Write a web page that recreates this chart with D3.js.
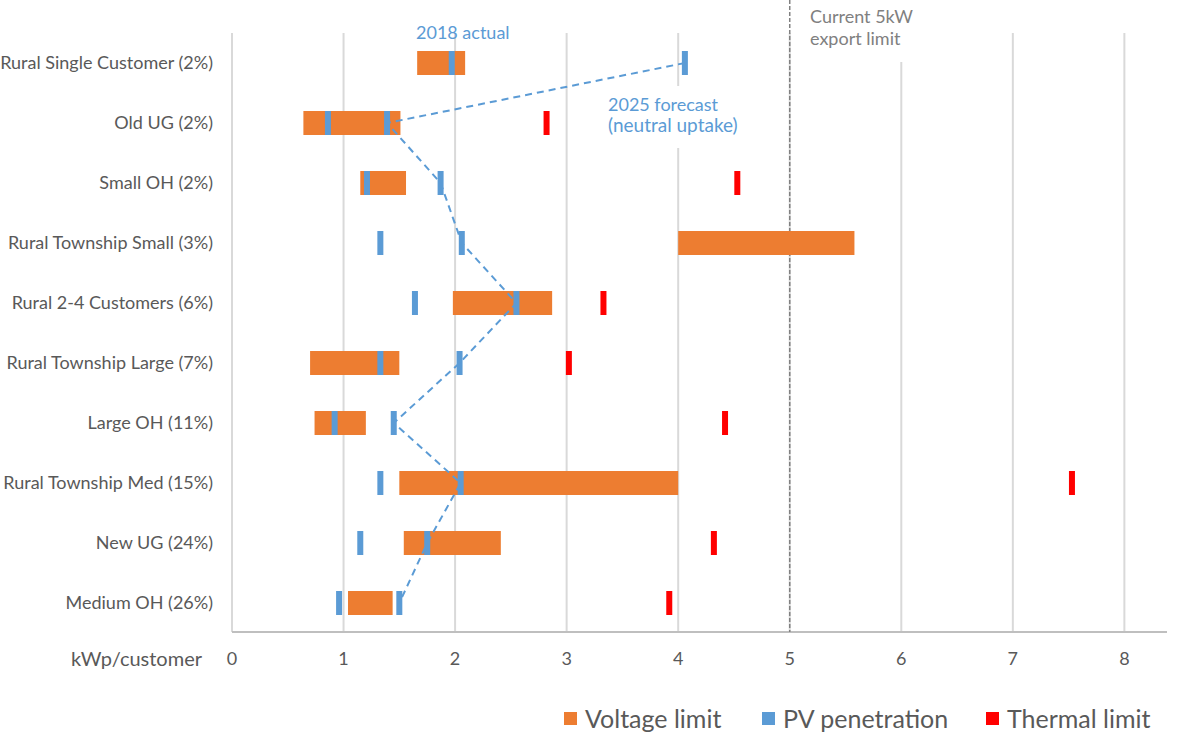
<!DOCTYPE html>
<html>
<head>
<meta charset="utf-8">
<script src="https://cdn.jsdelivr.net/npm/d3@7"></script>
<style>
  html, body { margin: 0; padding: 0; background: #ffffff; }
  svg { display: block; }
  text { font-family: Lato, "Open Sans", sans-serif; }
</style>
</head>
<body>
<svg id="chart" width="1200" height="741"></svg>
<script>
const categories = [
  "Rural Single Customer (2%)",
  "Old UG (2%)",
  "Small OH (2%)",
  "Rural Township Small (3%)",
  "Rural 2-4 Customers (6%)",
  "Rural Township Large (7%)",
  "Large OH (11%)",
  "Rural Township Med (15%)",
  "New UG (24%)",
  "Medium OH (26%)"
];
const voltageLow  = [1.66, 0.64, 1.15, 4.00, 1.98, 0.70, 0.74, 1.50, 1.54, 1.04];
const voltageHigh = [2.09, 1.51, 1.56, 5.58, 2.87, 1.50, 1.20, 4.00, 2.41, 1.44];
const pv2018      = [1.97, 0.86, 1.21, 1.33, 1.64, 1.33, 0.92, 1.33, 1.15, 0.96];
const pv2025      = [4.06, 1.39, 1.87, 2.06, 2.55, 2.04, 1.45, 2.05, 1.75, 1.50];
const thermal     = [null, 2.82, 4.53, null, 3.33, 3.02, 4.42, 7.53, 4.32, 3.92];
const xTicks = [0, 1, 2, 3, 4, 5, 6, 7, 8];
const xMax = 8.4;
const exportLimit = 5;
const legendItems = ["Voltage limit", "PV penetration", "Thermal limit"];
const axisTitle = "kWp/customer";

const colors = { voltage: "#ED7D31", pv: "#5B9BD5", thermal: "#FF0000" };
const textColor = "#595959";

const svg = d3.select("#chart");
const plot = { left: 232, right: 1169, top: 33, bottom: 633 };

const x = d3.scaleLinear().domain([0, xMax]).range([plot.left, plot.right]);
const y = d3.scaleBand().domain(categories).range([plot.top, plot.bottom])
  .paddingInner(0.6).paddingOuter(0.3);
const bw = y.bandwidth();
const yc = c => y(c) + bw / 2;

// gridlines
svg.append("g").selectAll("line").data(xTicks).join("line")
  .attr("x1", d => x(d)).attr("x2", d => x(d))
  .attr("y1", plot.top).attr("y2", plot.bottom - 1)
  .attr("stroke", "#D9D9D9").attr("stroke-width", 2);

// x axis line
svg.append("line")
  .attr("x1", x(0)).attr("x2", plot.right - 2)
  .attr("y1", plot.bottom - 1).attr("y2", plot.bottom - 1)
  .attr("stroke", "#BFBFBF").attr("stroke-width", 2);

// annotation boxes (white) hiding gridlines
svg.append("rect").attr("x", 600).attr("y", 86).attr("width", 150).attr("height", 62).attr("fill", "#fff");
svg.append("rect").attr("x", 800).attr("y", 0).attr("width", 120).attr("height", 62).attr("fill", "#fff");

// export limit dashed line
svg.append("line")
  .attr("x1", x(exportLimit)).attr("x2", x(exportLimit))
  .attr("y1", 0).attr("y2", plot.bottom - 1)
  .attr("stroke", "#808080").attr("stroke-width", 1.5)
  .attr("stroke-dasharray", "4,2");

// voltage bars
svg.append("g").selectAll("rect").data(categories).join("rect")
  .attr("x", (c, i) => x(voltageLow[i]))
  .attr("width", (c, i) => x(voltageHigh[i]) - x(voltageLow[i]))
  .attr("y", c => y(c)).attr("height", bw)
  .attr("fill", colors.voltage);

// forecast dashed line
const line = d3.line().x(d => x(d.v)).y(d => yc(d.c));
svg.append("path")
  .datum(categories.map((c, i) => ({ c, v: pv2025[i] })))
  .attr("d", line)
  .attr("fill", "none").attr("stroke", colors.pv)
  .attr("stroke-width", 2).attr("stroke-dasharray", "7,5");

const markerW = 6;
// PV markers
const pvData = [];
categories.forEach((c, i) => { pvData.push({ c, v: pv2018[i] }); pvData.push({ c, v: pv2025[i] }); });
svg.append("g").selectAll("rect").data(pvData).join("rect")
  .attr("x", d => x(d.v) - markerW / 2).attr("width", markerW)
  .attr("y", d => y(d.c)).attr("height", bw)
  .attr("fill", colors.pv);

// thermal markers
const thData = categories.map((c, i) => ({ c, v: thermal[i] })).filter(d => d.v != null);
svg.append("g").selectAll("rect").data(thData).join("rect")
  .attr("x", d => x(d.v) - markerW / 2).attr("width", markerW)
  .attr("y", d => y(d.c)).attr("height", bw)
  .attr("fill", colors.thermal);

// y labels
svg.append("g").selectAll("text").data(categories).join("text")
  .attr("x", 213).attr("y", c => yc(c)).attr("dy", "0.35em")
  .attr("text-anchor", "end").attr("font-size", 18).attr("fill", textColor)
  .text(c => c);

// x tick labels
svg.append("g").selectAll("text").data(xTicks).join("text")
  .attr("x", d => x(d)).attr("y", 659).attr("dy", "0.35em")
  .attr("text-anchor", "middle").attr("font-size", 18).attr("fill", textColor)
  .text(d => d);

svg.append("text").attr("x", 202).attr("y", 659).attr("dy", "0.35em")
  .attr("text-anchor", "end").attr("font-size", 20).attr("fill", textColor)
  .text(axisTitle);

// annotations
const ann = svg.append("g").attr("font-size", 18);
ann.append("text").attr("x", 416).attr("y", 39).attr("fill", colors.pv).text("2018 actual");
ann.append("text").attr("x", 608).attr("y", 111).attr("fill", colors.pv).text("2025 forecast");
ann.append("text").attr("x", 608).attr("y", 132).attr("fill", colors.pv).attr("font-size", 19).text("(neutral uptake)");
ann.append("text").attr("x", 810).attr("y", 23).attr("fill", "#808080").text("Current 5kW");
ann.append("text").attr("x", 810).attr("y", 45).attr("fill", "#808080").text("export limit");

// legend
const legendX = [564, 762, 986];
const legendColors = [colors.voltage, colors.pv, colors.thermal];
const lg = svg.append("g").selectAll("g").data(legendItems).join("g")
  .attr("transform", (d, i) => `translate(${legendX[i]},712)`);
lg.append("rect").attr("width", 13).attr("height", 13).attr("fill", (d, i) => legendColors[i]);
lg.append("text").attr("x", 21).attr("y", 6.5).attr("dy", "0.36em")
  .attr("font-size", 25).attr("fill", textColor).text(d => d);
</script>
</body>
</html>
